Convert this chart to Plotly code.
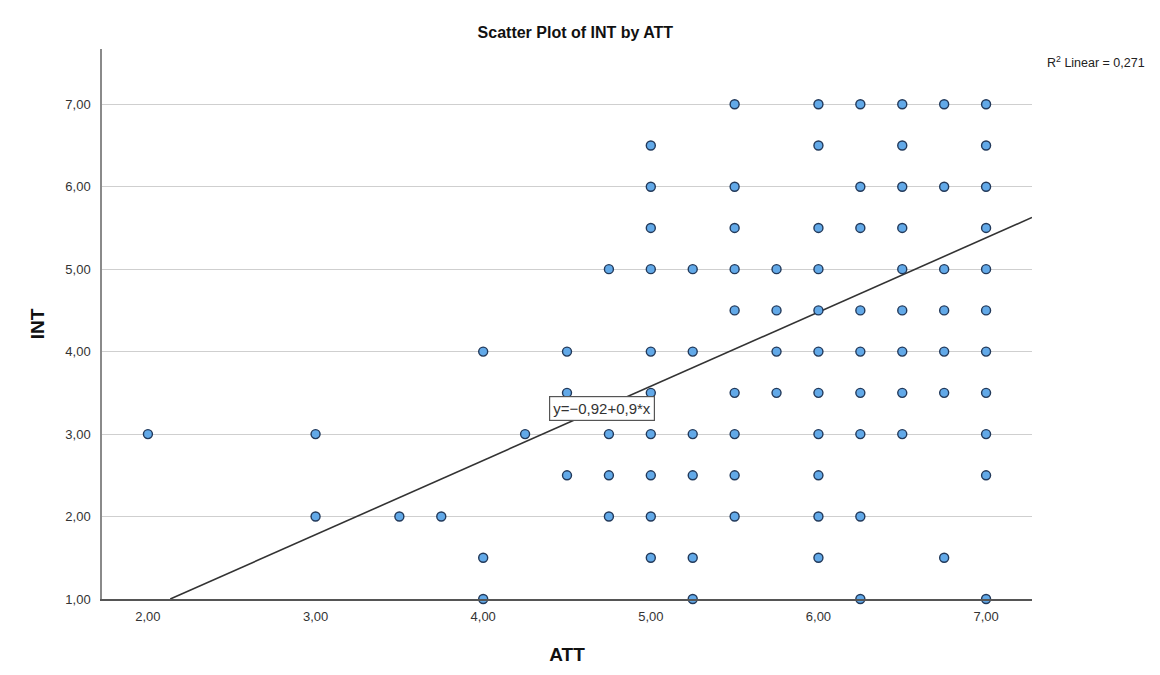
import plotly.graph_objects as go

# Data: (ATT, INT) observed pairs, grouped by INT level
rows = {
    7.0: [5.5, 6.0, 6.25, 6.5, 6.75, 7.0],
    6.5: [5.0, 6.0, 6.5, 7.0],
    6.0: [5.0, 5.5, 6.25, 6.5, 6.75, 7.0],
    5.5: [5.0, 5.5, 6.0, 6.25, 6.5, 7.0],
    5.0: [4.75, 5.0, 5.25, 5.5, 5.75, 6.0, 6.5, 6.75, 7.0],
    4.5: [5.5, 5.75, 6.0, 6.25, 6.5, 6.75, 7.0],
    4.0: [4.0, 4.5, 5.0, 5.25, 5.75, 6.0, 6.25, 6.5, 6.75, 7.0],
    3.5: [4.5, 5.0, 5.5, 5.75, 6.0, 6.25, 6.5, 6.75, 7.0],
    3.0: [2.0, 3.0, 4.25, 4.75, 5.0, 5.25, 5.5, 6.0, 6.25, 6.5, 7.0],
    2.5: [4.5, 4.75, 5.0, 5.25, 5.5, 6.0, 7.0],
    2.0: [3.0, 3.5, 3.75, 4.75, 5.0, 5.5, 6.0, 6.25],
    1.5: [4.0, 5.0, 5.25, 6.0, 6.75],
    1.0: [4.0, 5.25, 6.25, 7.0],
}
att = [x for y, xs in rows.items() for x in xs]
intv = [y for y, xs in rows.items() for _ in xs]

intercept = -0.92
slope = 0.9
r2 = 0.271

x_ticks = [2, 3, 4, 5, 6, 7]
x_ticklabels = ["2,00", "3,00", "4,00", "5,00", "6,00", "7,00"]
y_ticks = [1, 2, 3, 4, 5, 6, 7]
y_ticklabels = ["1,00", "2,00", "3,00", "4,00", "5,00", "6,00", "7,00"]

x_range = [1.726, 7.274]
y_range = [1.0, 7.67]

FONT = "Liberation Sans, Arial, sans-serif"

fig = go.Figure()

# regression line, clipped to the visible area
x0 = (y_range[0] - intercept) / slope
x1 = x_range[1]
fig.add_trace(go.Scatter(
    x=[x0, x1], y=[intercept + slope * x0, intercept + slope * x1],
    mode="lines", line=dict(color="#333333", width=1.6),
    hoverinfo="skip", showlegend=False, cliponaxis=True,
))

fig.add_trace(go.Scatter(
    x=att, y=intv, mode="markers",
    marker=dict(size=9, color="#62a9e8", line=dict(color="#22395a", width=1.4)),
    showlegend=False, cliponaxis=False,
))

fig.add_annotation(
    x=4.709, y=3.315, xref="x", yref="y",
    text="y=\u22120,92+0,9*x", showarrow=False,
    font=dict(family=FONT, size=15, color="#333333"),
    bgcolor="white", bordercolor="#555555", borderwidth=1.2, borderpad=3,
)

fig.add_annotation(
    x=1.1237, y=0.976, xref="paper", yref="paper",
    xanchor="right", yanchor="middle",
    text="R<sup>2</sup> Linear = " + f"{r2:.3f}".replace(".", ","),
    showarrow=False,
    font=dict(family=FONT, size=12.5, color="#222222"),
)

fig.update_layout(
    width=1160, height=675,
    margin=dict(l=102, r=128, t=49, b=76),
    paper_bgcolor="white", plot_bgcolor="white",
    title=dict(text="<b>Scatter Plot of INT by ATT</b>", x=0.496, xref="container",
               y=1 - 32 / 675, yref="container", yanchor="middle", xanchor="center",
               font=dict(family=FONT, size=16, color="#111111")),
    font=dict(family=FONT, size=13, color="#333333"),
    xaxis=dict(range=x_range, tickvals=x_ticks, ticktext=x_ticklabels,
               showgrid=False, zeroline=False, showline=True, linecolor="#555555",
               linewidth=1.5, ticks="", ticklen=0, ticklabelstandoff=5,
               tickfont=dict(family=FONT, size=13, color="#333333"),
               title=dict(text="<b>ATT</b>", font=dict(family=FONT, size=19, color="#111111"),
                          standoff=24)),
    yaxis=dict(range=y_range, tickvals=y_ticks, ticktext=y_ticklabels,
               showgrid=True, gridcolor="#cfcfcf", gridwidth=1.2,
               zeroline=False, showline=True, linecolor="#8a8a8a", linewidth=1.5,
               ticks="", ticklen=0, ticklabelstandoff=7,
               tickfont=dict(family=FONT, size=13, color="#333333"),
               title=dict(text="<b>INT</b>", font=dict(family=FONT, size=19, color="#111111"),
                          standoff=16)),
)

fig.write_html("out.html")
